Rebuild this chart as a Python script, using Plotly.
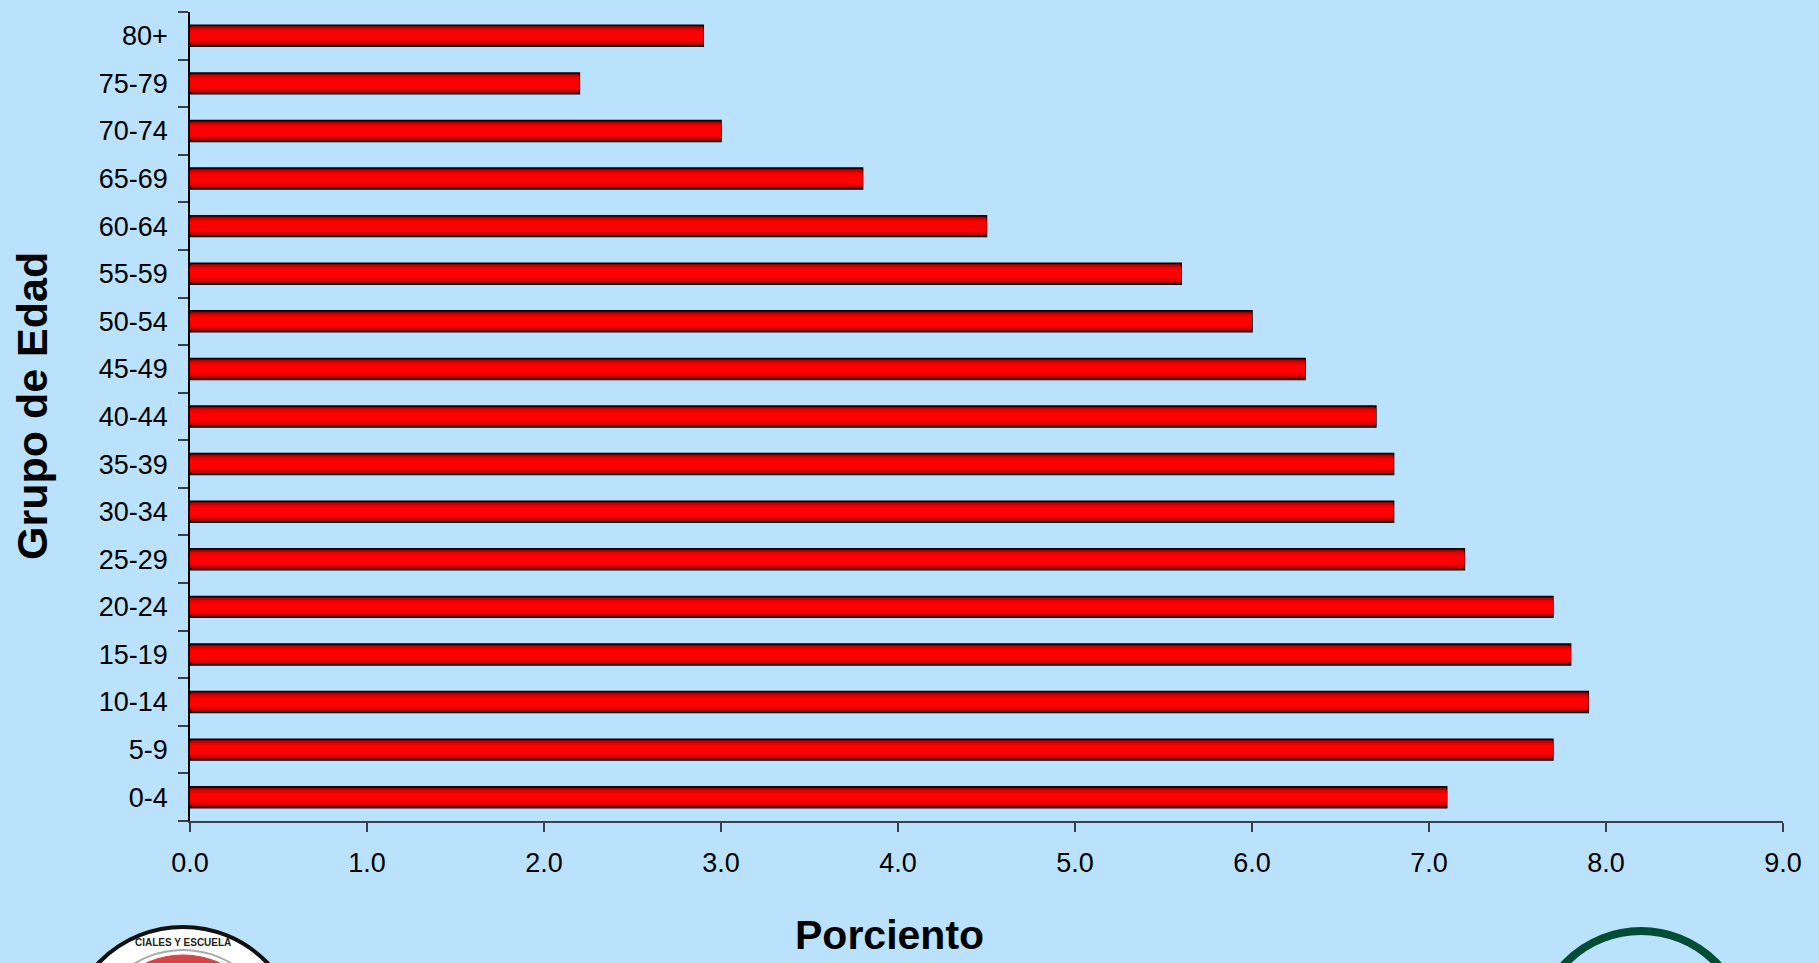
import plotly.graph_objects as go

categories = ["0-4", "5-9", "10-14", "15-19", "20-24", "25-29", "30-34", "35-39",
              "40-44", "45-49", "50-54", "55-59", "60-64", "65-69", "70-74", "75-79", "80+"]
porciento = [7.1, 7.7, 7.9, 7.8, 7.7, 7.2, 6.8, 6.8, 6.7, 6.3, 6.0, 5.6, 4.5, 3.8, 3.0, 2.2, 2.9]
x_ticks = [0, 1, 2, 3, 4, 5, 6, 7, 8, 9]
x_ticklabels = ["0.0", "1.0", "2.0", "3.0", "4.0", "5.0", "6.0", "7.0", "8.0", "9.0"]

W, H = 1819, 963
L, R, T, B = 190, 36, 12, 142
PW, PH = W - L - R, H - T - B
BG = "#BBE2FC"
FONT = "Liberation Sans, Arial, sans-serif"


def px_x(px):
    return (px - L) / PW


def px_y(py):
    return (H - B - py) / PH


fig = go.Figure()

# layered bars to mimic the gradient fill
layers = [
    (0.44, "#8C0000", dict(color="black", width=1.5)),
    (0.36, "#C40000", dict(width=0)),
    (0.28, "#EC0000", dict(width=0)),
    (0.18, "#FF0000", dict(width=0)),
]
for w, col, line in layers:
    fig.add_trace(go.Bar(
        x=porciento, y=categories, orientation="h", width=w,
        marker=dict(color=col, line=line), hoverinfo="skip", showlegend=False,
    ))

# logos (simple shape approximations)
shapes = []
cx, cy, r = 183, 1044, 117
shapes.append(dict(type="circle", xref="paper", yref="paper",
                   x0=px_x(cx - r), x1=px_x(cx + r), y0=px_y(cy + r), y1=px_y(cy - r),
                   fillcolor="white", line=dict(color="#111111", width=4), layer="above"))
r2 = 89
shapes.append(dict(type="circle", xref="paper", yref="paper",
                   x0=px_x(cx - r2 - 5), x1=px_x(cx + r2 + 5), y0=px_y(cy + r2 + 5), y1=px_y(cy - r2 - 5),
                   fillcolor="white", line=dict(color="#AAAAAA", width=2), layer="above"))
shapes.append(dict(type="circle", xref="paper", yref="paper",
                   x0=px_x(cx - r2), x1=px_x(cx + r2), y0=px_y(cy + r2), y1=px_y(cy - r2),
                   fillcolor="#D64545", line=dict(color="#D64545", width=1), layer="above"))
cx2, cy2, r3 = 1641, 1036, 105
shapes.append(dict(type="circle", xref="paper", yref="paper",
                   x0=px_x(cx2 - r3), x1=px_x(cx2 + r3), y0=px_y(cy2 + r3), y1=px_y(cy2 - r3),
                   fillcolor="rgba(0,0,0,0)", line=dict(color="#004D35", width=8), layer="above"))

annotations = [
    dict(text="<b>Porciento</b>", xref="paper", yref="paper", x=px_x(889), y=px_y(935),
         xanchor="center", yanchor="middle", showarrow=False,
         font=dict(family=FONT, size=41, color="black")),
    dict(text="<b>Grupo de Edad</b>", xref="paper", yref="paper", x=px_x(32), y=px_y(406),
         xanchor="center", yanchor="middle", showarrow=False, textangle=-90,
         font=dict(family=FONT, size=43, color="black")),
    dict(text="<b>CIALES Y ESCUELA</b>", xref="paper", yref="paper", x=px_x(183), y=px_y(942),
         xanchor="center", yanchor="middle", showarrow=False, textangle=0,
         font=dict(family=FONT, size=10, color="#222222")),
]

fig.update_layout(
    width=W, height=H,
    margin=dict(l=L, r=R, t=T, b=B, pad=0),
    paper_bgcolor=BG, plot_bgcolor=BG,
    barmode="overlay",
    font=dict(family=FONT, size=27, color="black"),
    shapes=shapes,
    annotations=annotations,
    xaxis=dict(
        range=[0, 9], tickvals=x_ticks, ticktext=x_ticklabels,
        showgrid=False, zeroline=False,
        showline=True, linecolor="#3A3F4A", linewidth=1.5,
        ticks="outside", ticklen=9, tickwidth=1.5, tickcolor="#3A3F4A",
        ticklabelstandoff=8,
        tickfont=dict(family=FONT, size=27, color="black"),
    ),
    yaxis=dict(
        categoryorder="array", categoryarray=categories,
        range=[-0.5, 16.5],
        showgrid=False, zeroline=False,
        showline=True, linecolor="black", linewidth=1.5,
        ticks="outside", ticklen=10, tickwidth=1.5, tickcolor="#3A3F4A",
        tickson="boundaries",
        ticklabelstandoff=15,
        tickfont=dict(family=FONT, size=27, color="black"),
    ),
)

fig.write_html(
    "out.html",
    config={"displayModeBar": False},
    post_script="document.body.style.margin='0';document.body.style.background='#BBE2FC';",
)
